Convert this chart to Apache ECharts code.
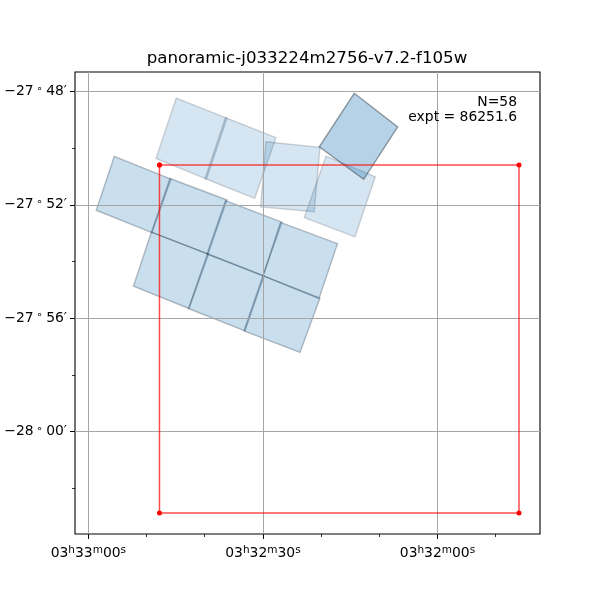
<!DOCTYPE html>
<html><head><meta charset="utf-8">
<style>html,body{margin:0;padding:0;background:#fff}#c{width:600px;height:600px}</style>
<script src="https://cdn.jsdelivr.net/npm/echarts@6/dist/echarts.min.js"></script>
</head><body><div id="c"></div>
<script>
const titleText = 'panoramic-j033224m2756-v7.2-f105w';
const noteLines = ['N=58', 'expt = 86251.6'];
// x = RA seconds after 03h32m00s, y = Dec arcminutes relative to -27 deg
const raMajor = [0, 30, 60];
const raMinor = [-10, 10, 20, 40, 50];
const decMajor = [-48, -52, -56, -60];
const decMinor = [-50, -54, -58, -62];
const raLabels = {0: ['03','32','00'], 30: ['03','32','30'], 60: ['03','33','00']};
const decLabels = {'-48': ['−27','48'], '-52': ['−27','52'], '-56': ['−27','56'], '-60': ['−28','00']};
const deepFootprints = [
  [14.30,-48.06, 6.84,-49.25, 12.68,-51.10, 20.32,-49.95]
];
const mosaicFootprints = [
  [55.55,-50.29, 45.81,-51.09, 49.07,-52.98, 58.65,-52.19],
  [45.98,-51.07, 36.18,-51.83, 39.45,-53.74, 49.16,-52.96],
  [36.44,-51.85, 26.73,-52.61, 29.99,-54.51, 39.62,-53.74],
  [26.99,-52.62, 17.19,-53.37, 20.37,-55.31, 29.99,-54.51],
  [49.16,-52.96, 39.36,-53.74, 42.71,-55.66, 52.25,-54.87],
  [39.53,-53.72, 29.82,-54.51, 33.09,-56.45, 42.80,-55.66],
  [29.99,-54.50, 20.20,-55.29, 23.63,-57.21, 33.26,-56.45]
];
const shallowFootprints = [
  [44.90,-48.23, 36.18,-48.94, 39.70,-51.09, 48.38,-50.36],
  [36.44,-48.92, 27.76,-49.63, 31.42,-51.77, 39.96,-51.07],
  [29.48,-49.77, 20.20,-49.97, 21.18,-52.24, 30.39,-52.07],
  [19.16,-50.28, 10.69,-51.01, 14.18,-53.13, 22.89,-52.45]
];
const fieldBox = [[47.78,-50.59],[-14.01,-50.59],[-14.01,-62.88],[47.78,-62.88],[47.78,-50.59]];

const FONT = '"DejaVu Sans"';
const rich = {
  a:{fontFamily:FONT,fontSize:13.9,color:'#000',lineHeight:16},
  s:{fontFamily:FONT,fontSize:10.5,color:'#000',verticalAlign:'top',lineHeight:6},
  d:{fontFamily:FONT,fontSize:10.5,color:'#000',verticalAlign:'top',lineHeight:6,padding:[0,3,0,3]}
};
const xLim = {min:-17.62,max:62.3,inverse:true};
const yLim = {min:-63.62,max:-47.31};
const line0 = {show:false,onZero:false};
function polySeries(data, fill, stroke, z){
  return {
    type:'custom', data:data, z:z, silent:true, clip:true,
    encode:{x:[0,2,4,6],y:[1,3,5,7]},
    renderItem:function(p,api){
      const pts=[];
      for(let i=0;i<8;i+=2) pts.push(api.coord([api.value(i),api.value(i+1)]));
      return {type:'polygon',shape:{points:pts},style:{fill:fill,stroke:stroke,lineWidth:1.4}};
    }
  };
}
const chart = echarts.init(document.getElementById('c'),null,{renderer:'canvas'});
chart.setOption({
  animation:false,
  backgroundColor:'#fff',
  title:{text:titleText,left:302,top:45,textAlign:'center',textStyle:{fontFamily:FONT,fontSize:16.67,fontWeight:'normal',color:'#000'}},
  grid:{left:75,right:60,top:72,bottom:66,show:true,borderColor:'#000',borderWidth:1.1,backgroundColor:'transparent'},
  xAxis:[
    Object.assign({type:'value',position:'bottom',z:1.5,axisLine:line0,
      axisTick:{show:true,length:5,lineStyle:{color:'#000',width:1},customValues:raMajor},
      axisLabel:{show:true,margin:11,customValues:raMajor,rich:rich,
        formatter:v=>{const t=raLabels[v];return `{a|${t[0]}}{s|h}{a|${t[1]}}{s|m}{a|${t[2]}}{s|s}`;}},
      splitLine:{show:true,lineStyle:{color:'#a6a6a6',width:1}}},xLim),
    Object.assign({type:'value',position:'bottom',z:1.5,axisLine:line0,
      axisTick:{show:true,length:3,lineStyle:{color:'#000',width:0.8},customValues:raMinor},
      axisLabel:{show:false},splitLine:{show:false}},xLim)
  ],
  yAxis:[
    Object.assign({type:'value',position:'left',z:1.5,axisLine:line0,
      axisTick:{show:true,length:5,lineStyle:{color:'#000',width:1},customValues:decMajor},
      axisLabel:{show:true,margin:8,customValues:decMajor,rich:rich,
        formatter:v=>{const t=decLabels[String(v)];return `{a|${t[0]}}{d|∘}{a|${t[1]}′}`;}},
      splitLine:{show:true,lineStyle:{color:'#a6a6a6',width:1}}},yLim),
    Object.assign({type:'value',position:'left',z:1.5,axisLine:line0,
      axisTick:{show:true,length:3,lineStyle:{color:'#000',width:0.8},customValues:decMinor},
      axisLabel:{show:false},splitLine:{show:false}},yLim)
  ],
  series:[
    polySeries(shallowFootprints,'rgba(31,119,180,0.19)','rgba(70,80,90,0.24)',1),
    polySeries(mosaicFootprints,'rgba(31,119,180,0.235)','rgba(40,60,80,0.32)',1),
    polySeries(deepFootprints,'rgba(31,119,180,0.33)','rgba(40,50,60,0.45)',1),
    {type:'line',data:fieldBox,z:3,silent:true,symbol:'circle',symbolSize:5,showSymbol:true,
      lineStyle:{color:'#ff0000',width:1.5,opacity:0.7},itemStyle:{color:'#ff0000'}}
  ],
  graphic:[
    {type:'text',x:517,y:102,z:5,style:{text:noteLines[0],textAlign:'right',textVerticalAlign:'middle',font:'13.9px "DejaVu Sans"',fill:'#000'}},
    {type:'text',x:517,y:117.5,z:5,style:{text:noteLines[1],textAlign:'right',textVerticalAlign:'middle',font:'13.9px "DejaVu Sans"',fill:'#000'}}
  ]
});
</script></body></html>
